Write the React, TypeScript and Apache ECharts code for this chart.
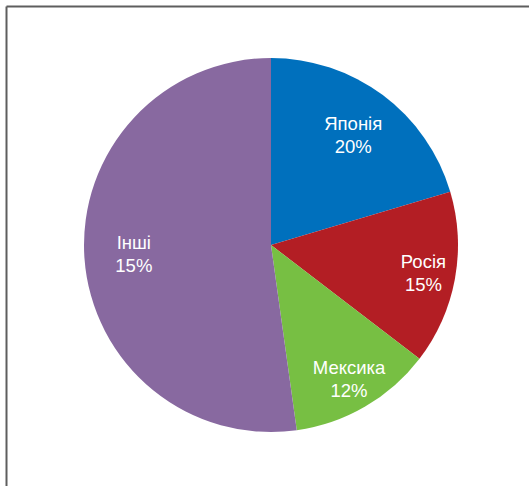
import React, { useEffect, useRef } from "react";
import * as echarts from "echarts";

const categories = ["Японія", "Росія", "Мексика", "Інші"];
const values = [20.4, 15, 12.4, 52.2];
const percentLabels = ["20%", "15%", "12%", "15%"];
const colors = ["#0070BD", "#B31E24", "#77BF43", "#8869A0"];

export default function App() {
  const ref = useRef<HTMLDivElement>(null);
  useEffect(() => {
    if (!ref.current) return;
    const chart = echarts.init(ref.current, null, { renderer: "svg" });
    const data = categories.map((name, i) => ({
      name,
      value: values[i],
      itemStyle: { color: colors[i] },
    }));
    const labelStyle = {
      show: true,
      position: "inside",
      color: "#ffffff",
      fontFamily: "Liberation Sans, Arial, sans-serif",
      fontSize: 18.5,
      lineHeight: 23,
      align: "center",
      formatter: (p: any) => `${p.name}\n${percentLabels[p.dataIndex]}`,
    };
    const overlay = (outer: number, shown: number[]) => ({
      type: "pie",
      center: [271, 245],
      radius: [0, outer],
      startAngle: 90,
      clockwise: true,
      silent: true,
      emphasis: { disabled: true },
      itemStyle: { color: "rgba(0,0,0,0)", borderWidth: 0 },
      labelLine: { show: false },
      label: labelStyle,
      data: categories.map((name, i) => ({
        name,
        value: values[i],
        label: { show: shown.includes(i) },
      })),
      z: 3,
    });
    chart.setOption({
      animation: false,
      backgroundColor: "#ffffff",
      graphic: [
        {
          type: "line",
          shape: { x1: 6.5, y1: 6.5, x2: 529, y2: 6.5 },
          style: { stroke: "#5e5e5e", lineWidth: 2 },
          silent: true,
        },
        {
          type: "line",
          shape: { x1: 6.5, y1: 6.5, x2: 6.5, y2: 486 },
          style: { stroke: "#5e5e5e", lineWidth: 2 },
          silent: true,
        },
      ],
      series: [
        {
          type: "pie",
          center: [271, 245],
          radius: [0, 187],
          startAngle: 90,
          clockwise: true,
          label: { show: false },
          labelLine: { show: false },
          emphasis: { disabled: true },
          silent: true,
          data,
        },
        overlay(269, [0, 3]),
        overlay(304, [1, 2]),
      ],
    });
    return () => chart.dispose();
  }, []);
  return (
    <div
      ref={ref}
      style={{ position: "fixed", left: 0, top: 0, width: 529, height: 486 }}
    />
  );
}
